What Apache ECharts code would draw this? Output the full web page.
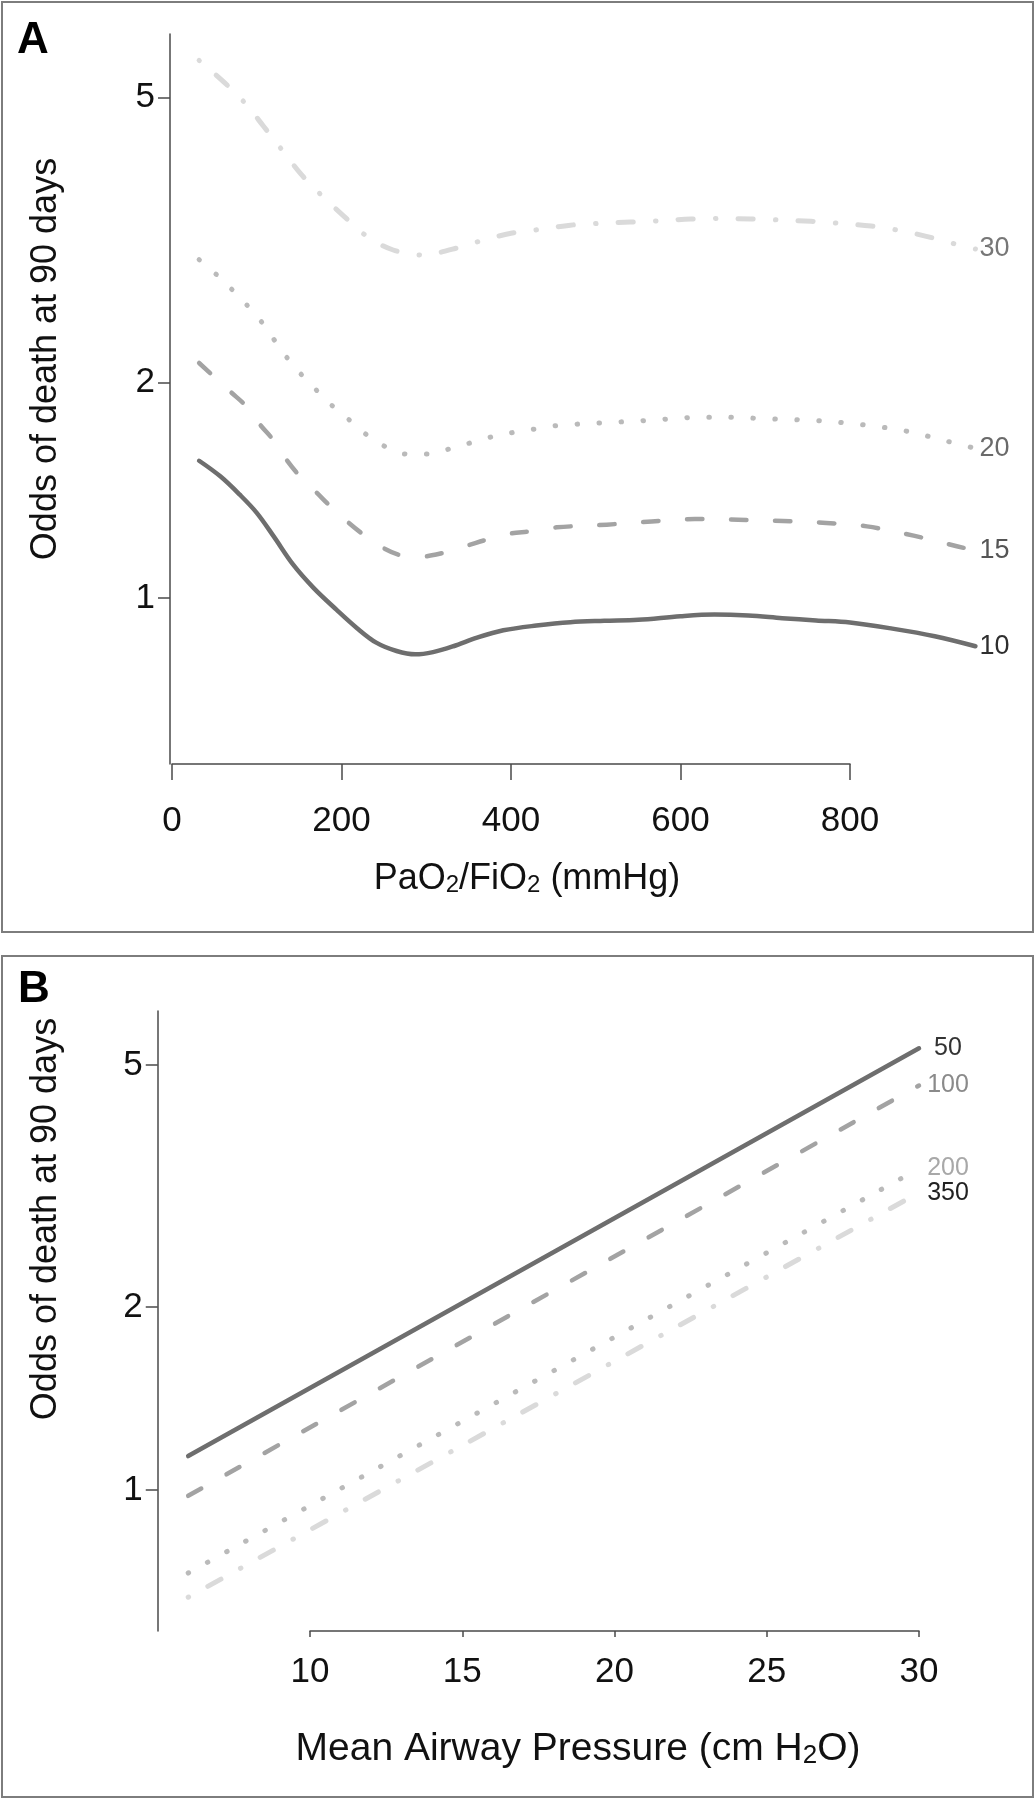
<!DOCTYPE html>
<html>
<head>
<meta charset="utf-8">
<script src="https://cdn.jsdelivr.net/npm/echarts@6/dist/echarts.min.js"></script>
<style>
html,body{margin:0;padding:0;background:#fff;}
#chart{width:1036px;height:1800px;}
</style>
</head>
<body>
<div id="chart"></div>
<script>
// ---------- Panel A: odds of death vs PaO2/FiO2, one curve per mean airway pressure ----------
const pfTicks = [0, 200, 400, 600, 800];
const oddsTicks = [1, 2, 5];

const pfX_map10 = [32, 57, 80, 100, 120, 143, 167, 194, 218, 241, 265, 287, 308, 332, 360, 391, 430, 470, 510, 550, 600, 640, 680, 720, 760, 800, 850, 900, 948];
const pfY_map10 = [1.555, 1.479, 1.394, 1.315, 1.219, 1.113, 1.033, 0.963, 0.908, 0.866, 0.843, 0.834, 0.840, 0.856, 0.880, 0.901, 0.915, 0.925, 0.929, 0.932, 0.943, 0.948, 0.945, 0.937, 0.930, 0.924, 0.906, 0.884, 0.856];

const pfX_map15 = [32, 70, 87, 104, 120, 135, 151, 171, 186, 208, 226, 249, 271, 290, 305, 322, 350, 371, 399, 422, 454, 513, 566, 617, 668, 721, 772, 820, 875, 926, 948];
const pfY_map15 = [2.13, 1.937, 1.856, 1.746, 1.66, 1.561, 1.479, 1.402, 1.346, 1.275, 1.226, 1.175, 1.146, 1.14, 1.146, 1.158, 1.185, 1.206, 1.230, 1.239, 1.255, 1.266, 1.279, 1.289, 1.286, 1.281, 1.273, 1.259, 1.222, 1.181, 1.165];

const pfX_map20 = [32, 54, 72, 90, 107, 122, 137, 154, 172, 190, 210, 230, 252, 276, 301, 327, 352, 376, 402, 428, 453, 505, 556, 608, 634, 660, 712, 763, 815, 866, 916, 948];
const pfY_map20 = [2.97, 2.82, 2.689, 2.554, 2.42, 2.282, 2.157, 2.044, 1.943, 1.852, 1.77, 1.69, 1.627, 1.589, 1.589, 1.615, 1.647, 1.678, 1.703, 1.722, 1.741, 1.756, 1.769, 1.786, 1.789, 1.788, 1.778, 1.769, 1.746, 1.711, 1.654, 1.618];

const pfX_map30 = [32, 61, 86, 108, 130, 152, 177, 203, 229, 261, 296, 331, 365, 400, 434, 470, 505, 541, 576, 612, 648, 683, 718, 754, 789, 825, 860, 895, 929, 948];
const pfY_map30 = [5.64, 5.263, 4.918, 4.563, 4.225, 3.914, 3.648, 3.415, 3.208, 3.064, 3.015, 3.073, 3.157, 3.233, 3.274, 3.319, 3.338, 3.352, 3.366, 3.385, 3.392, 3.385, 3.374, 3.36, 3.338, 3.309, 3.26, 3.191, 3.113, 3.074];

// ---------- Panel B: odds of death vs mean airway pressure, one line per PaO2/FiO2 ----------
const mapTicks = [10, 15, 20, 25, 30];
const mapX = [6, 30];
const mapY_pf50 = [1.137, 5.33];
const mapY_pf100 = [0.978, 4.63];
const mapY_pf200 = [0.730, 3.38];
const mapY_pf350 = [0.666, 3.085];

// ---------- styling ----------
const FONT = '"Liberation Sans", Arial, Helvetica, sans-serif';
const AXIS_COL = '#4a4a4a';
const styles = {
  solid:   {color: '#6e6e6e', width: 4.5, type: 'solid', cap: 'round', join: 'round'},
  dashed:  {color: '#a3a3a3', width: 4.5, type: [15, 29], cap: 'round', join: 'round'},
  dotted:  {color: '#bababa', width: 5,   type: [0.5, 21.5], cap: 'round', join: 'round'},
  dotdash: {color: '#dadada', width: 5,   type: [0.5, 22, 15, 22.5], cap: 'round', join: 'round'}
};

function pairs(xs, ys) { return xs.map((x, i) => [x, ys[i]]); }

function curve(name, xs, ys, style, axisIdx, label) {
  return {
    type: 'line', name: name,
    xAxisIndex: axisIdx, yAxisIndex: axisIdx,
    data: pairs(xs, ys),
    showSymbol: false, symbol: 'none',
    smooth: 0.35,
    silent: true,
    lineStyle: style,
    endLabel: Object.assign({
      show: true,
      formatter: name,
      fontFamily: FONT
    }, label)
  };
}

const oddsMin = 0.586, oddsMax = 6.14;

function hiddenX(min, max, grid) {
  return {type: 'value', gridIndex: grid, min: min, max: max, show: false};
}
function hiddenLogY(grid) {
  return {type: 'log', logBase: 10, gridIndex: grid, min: oddsMin, max: oddsMax, show: false};
}
function visibleX(ticks, grid, tickLen, margin) {
  return {
    type: 'value', gridIndex: grid, position: 'bottom',
    min: ticks[0], max: ticks[ticks.length - 1], interval: ticks[1] - ticks[0],
    axisLine: {show: true, onZero: false, lineStyle: {color: AXIS_COL, width: 1.5}},
    axisTick: {show: true, inside: false, length: tickLen, lineStyle: {color: AXIS_COL, width: 1.5}},
    axisLabel: {show: true, fontSize: 35, fontFamily: FONT, color: '#111', margin: margin},
    splitLine: {show: false}
  };
}
function visibleY(grid, offset, tickLen, margin) {
  const logTicks = oddsTicks.map(v => Math.log10(v));
  return {
    type: 'value', gridIndex: grid, position: 'left',
    min: Math.log10(oddsMin), max: Math.log10(oddsMax),
    offset: offset,
    axisLine: {show: true, onZero: false, lineStyle: {color: AXIS_COL, width: 1.5}},
    axisTick: {show: true, inside: false, length: tickLen, customValues: logTicks, lineStyle: {color: AXIS_COL, width: 1.5}},
    axisLabel: {show: true, fontSize: 35, fontFamily: FONT, color: '#111', margin: margin,
      customValues: logTicks,
      formatter: v => String(Math.round(Math.pow(10, v)))},
    splitLine: {show: false}
  };
}

// pixel geometry (plot areas)
const A = {left: 172, top: 34, height: 730, pxPerUnit: 678 / 800};
const B = {left: 310, top: 1011, height: 620, pxPerUnit: 609 / 20};
const bDataLeft = B.left - 5 * B.pxPerUnit;

const option = {
  animation: false,
  backgroundColor: '#ffffff',
  grid: [
    {left: A.left, top: A.top, width: 1000 * A.pxPerUnit, height: A.height, outerBoundsMode: 'none'},
    {left: A.left, top: A.top, width: 800 * A.pxPerUnit, height: A.height, outerBoundsMode: 'none'},
    {left: bDataLeft, top: B.top, width: 26 * B.pxPerUnit, height: B.height, outerBoundsMode: 'none'},
    {left: B.left, top: B.top, width: 20 * B.pxPerUnit, height: B.height, outerBoundsMode: 'none'}
  ],
  xAxis: [
    hiddenX(0, 1000, 0),
    visibleX(pfTicks, 1, 16, 40),
    hiddenX(5, 31, 2),
    visibleX(mapTicks, 3, 6, 24)
  ],
  yAxis: [
    hiddenLogY(0),
    visibleY(1, 2, 12, 15),
    hiddenLogY(2),
    visibleY(3, B.left - bDataLeft, 12, 15)
  ],
  series: [
    curve('30', pfX_map30, pfY_map30, styles.dotdash, 0, {distance: 4, align: 'left', fontSize: 27, color: '#777777'}),
    curve('20', pfX_map20, pfY_map20, styles.dotted, 0, {distance: 4, align: 'left', fontSize: 27, color: '#6a6a6a'}),
    curve('15', pfX_map15, pfY_map15, styles.dashed, 0, {distance: 4, align: 'left', fontSize: 27, color: '#555555'}),
    curve('10', pfX_map10, pfY_map10, styles.solid, 0, {distance: 4, align: 'left', fontSize: 27, color: '#2e2e2e'}),

    curve('50', mapX, mapY_pf50, styles.solid, 2, {distance: 29, align: 'center', fontSize: 25, color: '#333333'}),
    curve('100', mapX, mapY_pf100, styles.dashed, 2, {distance: 29, align: 'center', fontSize: 25, color: '#8a8a8a'}),
    curve('200', mapX, mapY_pf200, styles.dotted, 2, {distance: 29, align: 'center', fontSize: 25, color: '#a8a8a8'}),
    curve('350', mapX, mapY_pf350, styles.dotdash, 2, {distance: 29, align: 'center', fontSize: 25, color: '#222222'})
  ],
  graphic: [
    {type: 'rect', shape: {x: 2, y: 2, width: 1031, height: 930}, style: {fill: 'none', stroke: '#7d7d7d', lineWidth: 2}, silent: true},
    {type: 'rect', shape: {x: 2, y: 956, width: 1031, height: 841}, style: {fill: 'none', stroke: '#7d7d7d', lineWidth: 2}, silent: true},
    {type: 'text', x: 17, y: 41, style: {text: 'A', fontSize: 44, fontWeight: 'bold', fontFamily: FONT, fill: '#000', align: 'left', verticalAlign: 'middle'}, silent: true},
    {type: 'text', x: 18, y: 990, style: {text: 'B', fontSize: 44, fontWeight: 'bold', fontFamily: FONT, fill: '#000', align: 'left', verticalAlign: 'middle'}, silent: true},
    {type: 'text', x: 46, y: 359, rotation: Math.PI / 2,
      style: {text: 'Odds of death at 90 days', fontSize: 36, fontFamily: FONT, fill: '#111', align: 'center', verticalAlign: 'middle'}, silent: true},
    {type: 'text', x: 46, y: 1219, rotation: Math.PI / 2,
      style: {text: 'Odds of death at 90 days', fontSize: 36, fontFamily: FONT, fill: '#111', align: 'center', verticalAlign: 'middle'}, silent: true},
    {type: 'text', x: 527, y: 879,
      style: {text: '{n|PaO}{s|2}{n|/FiO}{s|2}{n| (mmHg)}', fontFamily: FONT, fill: '#111', align: 'center', verticalAlign: 'middle',
        rich: {n: {fontSize: 36, lineHeight: 36, verticalAlign: 'top', fontFamily: FONT, fill: '#111'},
               s: {fontSize: 24, lineHeight: 24, verticalAlign: 'bottom', padding: [18, 0, 0, 0], fontFamily: FONT, fill: '#111'}}}, silent: true},
    {type: 'text', x: 578, y: 1749,
      style: {text: '{n|Mean Airway Pressure (cm H}{s|2}{n|O)}', fontFamily: FONT, fill: '#111', align: 'center', verticalAlign: 'middle',
        rich: {n: {fontSize: 39, lineHeight: 39, verticalAlign: 'top', fontFamily: FONT, fill: '#111'},
               s: {fontSize: 26, lineHeight: 26, verticalAlign: 'bottom', padding: [19, 0, 0, 0], fontFamily: FONT, fill: '#111'}}}, silent: true}
  ]
};

const chart = echarts.init(document.getElementById('chart'), null, {renderer: 'canvas', width: 1036, height: 1800});
chart.setOption(option);
</script>
</body>
</html>
